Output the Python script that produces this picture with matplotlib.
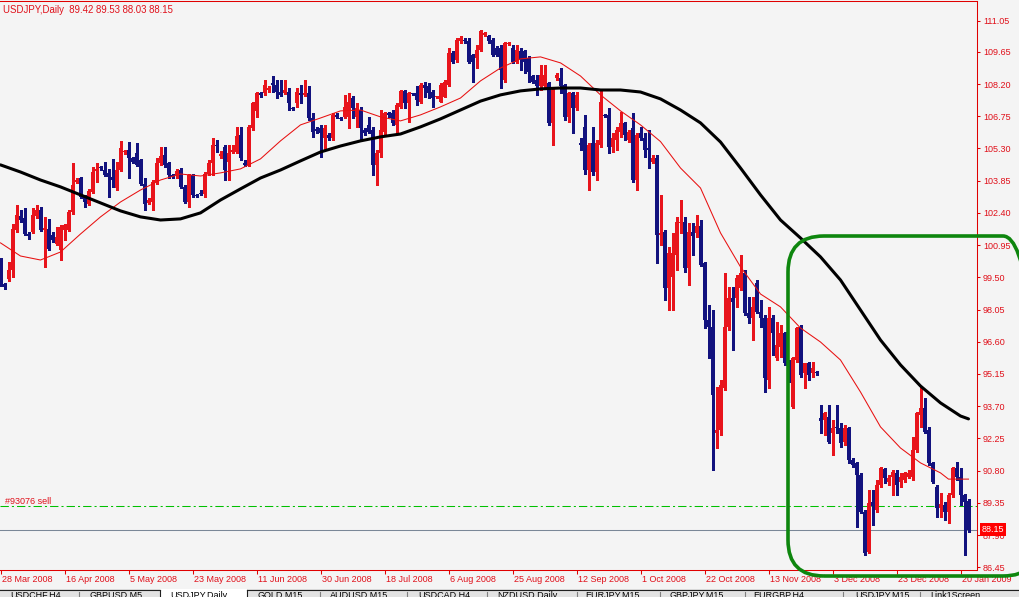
import matplotlib
matplotlib.use('Agg')
import matplotlib.pyplot as plt
import numpy as np
from matplotlib.patches import FancyBboxPatch, Rectangle
from matplotlib.transforms import IdentityTransform
from matplotlib.lines import Line2D

plt.rcParams['font.family'] = ['Liberation Sans', 'DejaVu Sans']
plt.rcParams['lines.scale_dashes'] = False

# ---------------- data ----------------
symbol = "USDJPY,Daily"
order_id = 93076
sell_price = 89.21

opens = [
    100.13, 99.21, 99.43, 99.81, 101.62, 102.25, 102.19, 101.47, 101.54, 102.25,
    102.52, 101.62, 101.69, 101.42, 101.01, 100.71, 101.62, 101.62, 102.44, 103.77,
    103.95, 103.12, 102.82, 103.35, 104.29, 104.45, 104.32, 104.20, 104.02, 103.54,
    104.32, 105.14, 105.23, 104.85, 105.08, 104.78, 103.72, 102.85, 102.89, 103.80,
    104.63, 105.00, 104.63, 104.10, 104.10, 104.32, 103.57, 102.89, 104.10, 103.20,
    103.30, 103.27, 104.17, 104.63, 105.45, 104.97, 105.35, 104.70, 105.15, 105.15,
    105.90, 104.65, 104.55, 106.21, 107.00, 107.79, 107.79, 107.94, 108.24, 108.16,
    107.86, 107.79, 107.86, 107.14, 107.34, 107.79, 107.71, 107.79, 106.66, 106.18,
    106.21, 105.76, 105.90, 105.76, 106.81, 106.68, 106.73, 106.73, 107.56, 106.73,
    107.03, 106.13, 106.36, 106.13, 104.55, 105.08, 106.05, 106.88, 106.88, 106.36,
    107.18, 107.89, 107.34, 107.78, 107.79, 107.41, 108.16, 108.09, 107.86, 107.61,
    107.41, 107.63, 108.16, 109.59, 109.29, 110.12, 110.19, 110.12, 109.52, 109.37,
    109.74, 110.42, 110.34, 110.19, 109.82, 109.82, 108.39, 110.00, 109.82, 109.21,
    109.67, 109.67, 109.37, 108.54, 108.39, 108.09, 108.09, 108.24, 106.43, 108.46,
    108.46, 108.16, 106.73, 107.79, 107.11, 105.53, 106.28, 104.33, 105.53, 104.25,
    105.46, 106.81, 106.81, 105.38, 105.68, 106.05, 106.43, 105.68, 106.21, 103.88,
    105.98, 105.76, 105.31, 104.70, 104.86, 101.41, 101.55, 99.01, 99.53, 100.51,
    101.93, 102.00, 99.91, 101.55, 101.48, 101.81, 100.13, 97.58, 97.28, 92.48,
    92.63, 94.51, 97.28, 98.56, 98.56, 99.01, 99.68, 97.88, 97.66, 99.23,
    97.96, 97.66, 94.88, 97.66, 95.86, 96.38, 96.98, 95.63, 93.68, 95.78,
    97.28, 95.18, 95.63, 95.18, 95.26, 93.16, 93.08, 93.23, 92.48, 92.78,
    92.71, 92.10, 92.71, 91.28, 91.13, 90.61, 88.95, 87.16, 89.38, 89.03,
    90.16, 90.86, 90.31, 90.53, 90.68, 90.31, 90.38, 90.53, 90.53, 91.73,
    93.31, 93.61, 92.63, 91.13, 90.08, 89.11, 89.26, 88.95, 89.71, 90.91,
    90.53, 89.71, 89.42]

highs = [
    100.35, 99.25, 100.18, 101.92, 102.74, 102.52, 102.60, 101.55, 102.60, 102.74,
    102.67, 102.22, 102.14, 101.55, 101.77, 101.84, 101.90, 102.52, 104.63, 103.95,
    104.03, 103.20, 103.47, 104.47, 104.63, 104.52, 104.70, 104.37, 104.81, 104.70,
    105.63, 105.25, 105.60, 104.92, 105.53, 104.82, 103.95, 103.05, 103.87, 104.85,
    105.38, 105.38, 104.70, 104.17, 104.37, 104.40, 103.64, 104.17, 104.17, 103.25,
    103.45, 104.25, 104.78, 105.76, 105.68, 105.17, 105.45, 105.45, 105.45, 106.28,
    106.28, 104.78, 106.36, 107.41, 107.85, 107.86, 108.39, 108.12, 108.54, 108.39,
    108.39, 108.39, 108.01, 107.18, 108.01, 108.16, 108.39, 108.09, 106.88, 106.25,
    106.36, 106.36, 105.98, 106.88, 106.88, 106.70, 107.71, 107.79, 107.64, 107.34,
    107.18, 106.20, 106.73, 106.28, 105.23, 107.03, 106.96, 106.96, 107.03, 107.34,
    107.94, 107.94, 107.82, 107.80, 108.09, 108.24, 108.31, 108.24, 107.94, 107.68,
    108.24, 108.39, 109.82, 109.67, 110.27, 110.34, 110.27, 110.27, 109.55, 109.97,
    110.65, 110.55, 110.42, 110.27, 109.90, 109.97, 110.10, 110.08, 109.97, 109.97,
    109.82, 109.74, 109.44, 108.61, 108.61, 109.07, 109.07, 108.31, 108.01, 108.69,
    108.92, 108.20, 107.86, 107.86, 107.86, 105.76, 106.81, 105.53, 106.28, 105.68,
    107.93, 106.85, 107.11, 105.98, 106.28, 106.95, 106.50, 106.13, 106.88, 105.98,
    106.28, 105.98, 106.13, 105.01, 105.01, 103.21, 101.63, 100.88, 101.48, 102.23,
    102.98, 102.23, 101.93, 101.93, 102.31, 102.08, 100.20, 98.26, 98.03, 94.58,
    94.88, 99.68, 99.08, 99.08, 99.61, 100.51, 99.83, 98.63, 98.63, 99.38,
    98.48, 97.81, 98.18, 97.81, 97.51, 97.36, 97.06, 95.78, 95.93, 97.28,
    97.36, 95.63, 95.71, 95.71, 95.30, 93.76, 93.45, 93.76, 93.08, 93.76,
    92.93, 92.86, 92.78, 91.36, 91.21, 90.68, 89.03, 89.93, 89.93, 90.38,
    90.98, 90.91, 90.61, 90.83, 90.83, 90.68, 90.76, 90.83, 92.33, 93.45,
    94.58, 94.06, 92.78, 91.21, 90.16, 89.78, 89.40, 89.78, 90.98, 91.21,
    90.91, 89.75, 89.53]

lows = [
    99.13, 98.97, 99.35, 99.51, 101.55, 101.99, 101.39, 101.22, 101.50, 102.19,
    101.58, 99.96, 100.71, 101.08, 100.94, 100.26, 101.16, 101.58, 102.37, 103.73,
    103.05, 102.67, 102.74, 103.30, 103.80, 104.35, 104.05, 103.12, 103.57, 103.44,
    104.28, 105.07, 103.95, 104.63, 104.50, 103.65, 102.52, 102.79, 102.52, 103.72,
    104.55, 104.47, 103.95, 103.95, 103.95, 103.50, 102.85, 102.67, 103.12, 103.10,
    103.20, 103.12, 104.10, 104.10, 105.15, 104.85, 103.87, 103.87, 105.08, 105.08,
    104.80, 104.50, 104.50, 106.13, 106.73, 107.60, 107.71, 107.86, 107.86, 107.56,
    107.64, 107.75, 107.03, 107.03, 107.18, 107.34, 107.64, 106.58, 105.83, 106.00,
    104.93, 105.23, 105.68, 105.68, 106.66, 106.60, 106.66, 106.21, 106.66, 106.28,
    105.68, 105.90, 105.98, 104.10, 103.65, 104.93, 105.90, 106.73, 106.36, 105.98,
    107.11, 107.11, 106.51, 107.70, 107.26, 107.34, 107.63, 107.56, 107.18, 107.58,
    107.38, 107.60, 108.09, 109.14, 109.21, 110.04, 110.04, 109.14, 108.31, 108.92,
    109.67, 110.35, 110.04, 109.44, 109.44, 108.01, 108.30, 109.97, 109.14, 109.14,
    108.84, 108.69, 108.31, 108.24, 107.71, 107.94, 108.01, 106.36, 105.45, 108.39,
    107.79, 106.58, 106.51, 105.98, 107.03, 105.23, 104.17, 103.43, 104.11, 103.88,
    105.38, 106.72, 105.08, 105.15, 105.23, 105.83, 105.68, 105.60, 103.80, 103.43,
    105.68, 104.93, 104.41, 104.63, 100.13, 100.96, 98.48, 98.03, 98.03, 99.83,
    101.48, 99.75, 99.16, 100.51, 101.33, 100.00, 97.21, 95.86, 90.83, 91.81,
    92.41, 94.43, 97.13, 96.23, 98.18, 98.93, 97.81, 97.43, 96.68, 97.88,
    97.28, 94.36, 94.51, 96.01, 95.78, 95.93, 95.56, 94.80, 93.61, 95.71,
    95.03, 94.51, 94.88, 95.03, 95.10, 92.48, 92.41, 92.03, 91.51, 92.48,
    91.88, 91.96, 91.13, 90.98, 88.28, 88.88, 87.01, 87.08, 88.36, 88.95,
    90.08, 90.23, 90.16, 89.71, 89.71, 90.08, 90.31, 90.46, 90.38, 91.66,
    92.78, 92.48, 91.06, 90.23, 88.73, 88.73, 88.58, 88.43, 89.63, 90.38,
    89.26, 87.01, 88.03]

closes = [
    99.22, 99.06, 99.81, 101.69, 102.29, 102.10, 101.47, 101.34, 102.29, 102.52,
    101.62, 101.72, 100.79, 101.16, 101.31, 101.77, 101.84, 102.44, 103.65, 103.87,
    103.12, 102.89, 103.39, 104.25, 104.37, 104.40, 104.10, 104.02, 103.87, 104.32,
    105.30, 105.18, 104.85, 104.67, 104.55, 103.72, 102.82, 103.00, 103.80, 104.63,
    104.96, 104.55, 104.10, 104.00, 104.29, 103.57, 102.89, 104.10, 103.20, 103.15,
    103.27, 104.17, 104.63, 105.45, 105.41, 105.03, 104.32, 105.08, 105.23, 105.86,
    104.85, 104.55, 106.28, 107.34, 107.79, 107.71, 108.16, 108.01, 108.16, 107.86,
    107.71, 107.94, 107.34, 107.08, 107.86, 107.71, 107.79, 106.66, 106.05, 106.10,
    105.98, 106.21, 105.76, 106.81, 106.73, 106.64, 107.18, 107.41, 107.11, 107.11,
    106.21, 105.98, 106.05, 104.55, 105.08, 106.13, 106.88, 106.81, 106.43, 107.26,
    107.90, 107.34, 107.79, 107.74, 107.49, 108.16, 108.01, 107.79, 107.56, 107.65,
    108.16, 108.31, 109.59, 109.21, 110.19, 110.27, 110.12, 109.21, 109.21, 109.74,
    110.57, 110.49, 110.12, 109.52, 109.52, 108.84, 110.04, 110.04, 109.21, 109.74,
    109.29, 109.21, 108.76, 108.31, 108.09, 108.61, 108.61, 106.43, 107.94, 108.61,
    108.09, 106.73, 107.79, 107.11, 107.71, 105.45, 104.32, 105.46, 104.25, 105.53,
    107.40, 106.76, 105.38, 105.76, 106.13, 106.43, 105.91, 106.05, 103.88, 105.91,
    105.76, 105.23, 105.23, 104.86, 101.41, 101.51, 99.01, 100.58, 100.58, 102.00,
    102.00, 99.91, 101.55, 101.38, 101.81, 100.06, 97.58, 97.28, 94.21, 92.63,
    94.66, 97.28, 98.56, 98.41, 99.46, 99.68, 97.88, 97.66, 98.18, 97.96,
    97.66, 94.96, 97.66, 96.98, 96.46, 96.98, 95.63, 94.88, 95.86, 97.21,
    95.11, 95.63, 95.11, 95.41, 95.18, 93.05, 93.38, 92.10, 92.71, 92.71,
    92.03, 92.71, 91.28, 91.06, 90.61, 88.95, 87.08, 89.33, 89.21, 90.16,
    90.91, 90.46, 90.46, 90.76, 90.16, 90.53, 90.68, 90.68, 91.73, 93.38,
    93.61, 92.56, 91.13, 90.31, 89.11, 89.30, 88.95, 89.71, 90.91, 90.53,
    89.71, 89.40, 88.15]

# fast (thin red) moving average, sampled at bar numbers
fast_ma_bars = list(range(0, 240, 5)) + [237, 242]
fast_ma = [
    101.05, 100.46, 100.28, 100.64, 101.45, 102.22, 102.89, 103.43, 103.88, 104.15,
    104.06, 104.20, 104.38, 104.83, 105.64, 106.36, 106.67, 106.99, 107.03, 106.72,
    106.54, 106.81, 107.17, 107.57, 108.34, 108.92, 109.33, 109.42, 109.15, 108.56,
    107.71, 106.99, 106.36, 105.61, 104.42, 103.52, 101.50, 99.97, 98.75, 98.17,
    97.22, 96.59, 95.78, 94.34, 92.77, 91.82, 91.15, 90.70, 90.42, 90.42]

# slow (thick black) moving average, sampled at bar numbers
slow_ma_bars = list(range(0, 245, 5)) + [242]
slow_ma = [
    104.56, 104.24, 103.88, 103.57, 103.21, 102.85, 102.49, 102.22, 102.08, 102.13,
    102.40, 102.98, 103.48, 103.97, 104.33, 104.74, 105.14, 105.41, 105.64, 105.82,
    105.95, 106.27, 106.63, 107.03, 107.43, 107.71, 107.89, 107.98, 108.02, 108.02,
    107.93, 107.93, 107.84, 107.53, 107.03, 106.45, 105.59, 104.42, 103.21, 102.08,
    101.27, 100.42, 99.38, 98.03, 96.68, 95.56, 94.61, 93.85, 93.26, 93.13]

price_ticks = [111.05, 109.65, 108.20, 106.75, 105.30, 103.85, 102.40, 100.95,
               99.50, 98.05, 96.60, 95.15, 93.70, 92.25, 90.80, 89.35, 87.90, 86.45]

date_tick_bars = list(range(0, 241, 16))
date_labels = ["28 Mar 2008", "16 Apr 2008", "5 May 2008", "23 May 2008",
               "11 Jun 2008", "30 Jun 2008", "18 Jul 2008", "6 Aug 2008",
               "25 Aug 2008", "12 Sep 2008", "1 Oct 2008", "22 Oct 2008",
               "13 Nov 2008", "3 Dec 2008", "23 Dec 2008", "20 Jan 2009"]

tab_names = ["USDCHF,H4", "GBPUSD,M5", "USDJPY,Daily", "GOLD,M15", "AUDUSD,M15",
             "USDCAD,H4", "NZDUSD,Daily", "EURJPY,M15", "GBPJPY,M15", "EURGBP,H4",
             "USDJPY,M15", "Link1Screen"]

# ---------------- style ----------------
W, H = 1019, 597
BG = '#F4F4F4'
TXTRED = '#E0101A'
AXRED = '#E00000'
BULL = '#E8141C'
BEAR = '#12127E'
FS = 6.5

fig = plt.figure(figsize=(W / 100, H / 100), dpi=100)
fig.patch.set_facecolor(BG)
ax = fig.add_axes([0, (H - 570) / H, 977 / W, 569 / H])
ax.set_facecolor(BG)

o = np.array(opens); hi = np.array(highs); lo = np.array(lows); c = np.array(closes)
idx = np.arange(len(o))
cols = np.where(c > o, BULL, BEAR)
ax.vlines(idx, lo, hi, colors=cols, linewidth=0.75, antialiased=False, zorder=3)
ax.bar(idx, np.maximum(np.abs(c - o), 0.045), bottom=np.minimum(o, c), width=0.75,
       color=cols, linewidth=0, antialiased=False, zorder=4)

ax.plot(fast_ma_bars, fast_ma, color='#E81010', lw=0.75, zorder=5)
ax.plot(slow_ma_bars, slow_ma, color='black', lw=2.2, zorder=5, solid_capstyle='round')

ax.axhline(sell_price, color='#00C000', lw=0.75, linestyle=(0, (6, 2.2, 1.5, 2.2)), zorder=2)
ax.axhline(closes[-1], color='#7A8797', lw=0.75, zorder=2)

ax.set_xlim(-0.125, 244.125)
ax.set_ylim(86.33, 111.935)

for s in ['top', 'right', 'bottom']:
    ax.spines[s].set_color(AXRED)
    ax.spines[s].set_linewidth(0.75)
ax.spines['left'].set_visible(False)

ax.yaxis.tick_right()
ax.set_yticks(price_ticks)
ax.set_yticklabels([f'{v:.2f}' for v in price_ticks])
ax.tick_params(axis='y', direction='out', length=2.3, width=0.75, color=AXRED,
               labelcolor=TXTRED, labelsize=FS, pad=2)
ax.set_xticks(date_tick_bars)
ax.set_xticklabels([])
ax.tick_params(axis='x', direction='out', length=3, width=0.75, color=AXRED)
for b, lab in zip(date_tick_bars, date_labels):
    ax.annotate(lab, xy=(b, 0), xycoords=('data', 'axes fraction'), xytext=(2, -4.5),
                textcoords='offset pixels', ha='left', va='top', fontsize=FS,
                color=TXTRED, annotation_clip=False)

header = f"{symbol}  {opens[-1]:.2f} {highs[-1]:.2f} {lows[-1]:.2f} {closes[-1]:.2f}"
ax.annotate(header, xy=(0, 1), xycoords='axes fraction', xytext=(3, -9),
            textcoords='offset pixels', ha='left', va='center', fontsize=6.9, color=TXTRED)
ax.annotate(f'#{order_id} sell', xy=(0, sell_price), xycoords=('axes fraction', 'data'),
            xytext=(5, 2), textcoords='offset pixels', ha='left', va='baseline',
            fontsize=FS, color=TXTRED)
ax.annotate(f'{closes[-1]:.2f}', xy=(1, closes[-1]), xycoords=('axes fraction', 'data'),
            xytext=(5, 0), textcoords='offset pixels', ha='left', va='center',
            fontsize=FS, color='white', zorder=10, annotation_clip=False,
            bbox=dict(boxstyle='square,pad=0.2', fc='#FF0000', ec='none'))

# green highlight rounded rectangle
rr = FancyBboxPatch((788, H - 576), 251, 340, boxstyle='round,pad=0,rounding_size=36',
                    transform=IdentityTransform(), fill=False, ec='#0E860E', lw=2.6,
                    zorder=20)
fig.add_artist(rr)

# bottom tab bar
def frect(x0, y0, x1, y1, **kw):
    fig.add_artist(Rectangle((x0, H - y1), x1 - x0, y1 - y0,
                             transform=IdentityTransform(), **kw))

def fline(xs, ys, **kw):
    fig.add_artist(Line2D(xs, [H - y for y in ys], transform=IdentityTransform(), **kw))

frect(0, 589, W, H + 2, fc='#E2E2E2', ec='none', zorder=15)
frect(160, 589, 247, H + 2, fc='white', ec='none', zorder=16)
fline([0, 160], [589.5, 589.5], color='#202020', lw=0.8, zorder=17)
fline([247, W], [589.5, 589.5], color='#202020', lw=0.8, zorder=17)
fline([160, 160], [589.5, H], color='#202020', lw=0.8, zorder=17)
fline([247, 247], [589.5, H], color='#202020', lw=0.8, zorder=17)
for sx in [79, 320, 407, 487, 577, 660, 745, 843, 920]:
    fline([sx, sx], [592, H], color='#808080', lw=0.8, zorder=17)
tab_x = [10, 90, 170, 258, 330, 418, 497, 585, 670, 753, 855, 930]
for tx, name in zip(tab_x, tab_names):
    fig.text(tx / W, 1 - 591 / H, name, ha='left', va='top', fontsize=FS,
             color='black', zorder=18)

fig.savefig('out.png', dpi=100, facecolor=BG)
